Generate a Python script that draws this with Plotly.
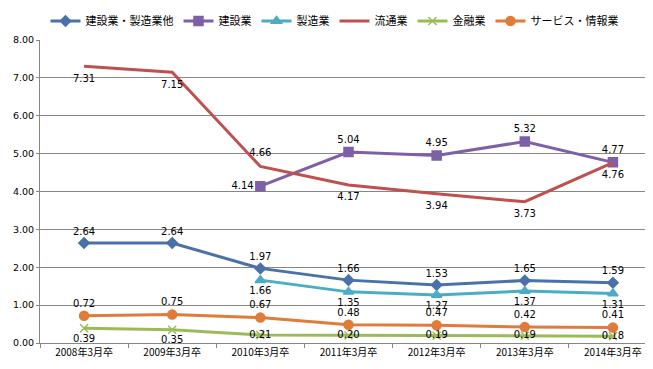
import plotly.graph_objects as go

categories = ["2008年3月卒", "2009年3月卒", "2010年3月卒", "2011年3月卒",
              "2012年3月卒", "2013年3月卒", "2014年3月卒"]

s_all = [2.64, 2.64, 1.97, 1.66, 1.53, 1.65, 1.59]
s_const = [None, None, 4.14, 5.04, 4.95, 5.32, 4.77]
s_mfg = [None, None, 1.66, 1.35, 1.27, 1.37, 1.31]
s_dist = [7.31, 7.15, 4.66, 4.17, 3.94, 3.73, 4.76]
s_fin = [0.39, 0.35, 0.21, 0.20, 0.19, 0.19, 0.18]
s_serv = [0.72, 0.75, 0.67, 0.48, 0.47, 0.42, 0.41]

names = ["建設業・製造業他", "建設業", "製造業", "流通業", "金融業", "サービス・情報業"]

def lbl(vals):
    return [("" if v is None else f"{v:.2f}") for v in vals]

series = [
    (names[0], s_all, "#4A71A8", "diamond", 8, ["top center"] * 7, True),
    (names[1], s_const, "#7E60A6", "square", 9,
     ["top center", "top center", "middle left", "top center", "top center", "top center", "top center"], True),
    (names[2], s_mfg, "#4BACC6", "triangle-up", 9, ["bottom center"] * 7, True),
    (names[3], s_dist, "#C0504D", "circle", 11,
     ["bottom center", "bottom center", "top center", "bottom center", "bottom center", "bottom center", "bottom center"],
     False),
    (names[4], s_fin, "#9BBB59", "x-thin-open", 8,
     ["bottom center", "bottom center", "middle center", "middle center", "middle center", "middle center", "middle center"],
     True),
    (names[5], s_serv, "#E07B39", "circle", 9, ["top center"] * 7, True),
]

fig = go.Figure()
for name, vals, color, sym, msize, tpos, visible_marker in series:
    mcolor = color if visible_marker else "rgba(0,0,0,0)"
    fig.add_trace(go.Scatter(
        x=categories, y=vals, name=name, mode="lines+markers+text",
        line=dict(color=color, width=3),
        marker=dict(symbol=sym, size=msize, color=mcolor,
                    line=dict(color=mcolor, width=1.5 if visible_marker else 0)),
        text=lbl(vals), textposition=tpos,
        textfont=dict(size=10, color="#000000", family="DejaVu Sans, Noto Sans CJK JP"),
        connectgaps=False,
    ))

fig.update_layout(
    width=653, height=369,
    margin=dict(l=32, r=4, t=32, b=34, autoexpand=False),
    paper_bgcolor="white", plot_bgcolor="white",
    font=dict(family="DejaVu Sans, Noto Sans CJK JP", size=10, color="#000000"),
    showlegend=True,
    legend=dict(orientation="h", x=0.5, xanchor="center", xref="container",
                y=0.965, yanchor="middle", yref="container",
                font=dict(size=11, family="Noto Sans CJK JP, DejaVu Sans"),
                itemwidth=30, tracegroupgap=0, bgcolor="rgba(0,0,0,0)"),
)

fig.update_xaxes(type="category", showgrid=False, showline=True, linecolor="#868686",
                 linewidth=1, ticks="outside", ticklen=4, tickcolor="#868686",
                 tickson="boundaries", tickfont=dict(size=10, family="Noto Sans CJK JP, DejaVu Sans"),
                 range=[-0.5, 6.5], automargin=False)
fig.update_yaxes(range=[0, 8], dtick=1, tickformat=".2f", showgrid=True, gridcolor="#868686",
                 gridwidth=1, showline=True, linecolor="#868686", linewidth=1,
                 ticks="outside", ticklen=3, tickcolor="#868686", zeroline=False,
                 tickfont=dict(size=9.5), automargin=False)

fig.write_html("out.html")
